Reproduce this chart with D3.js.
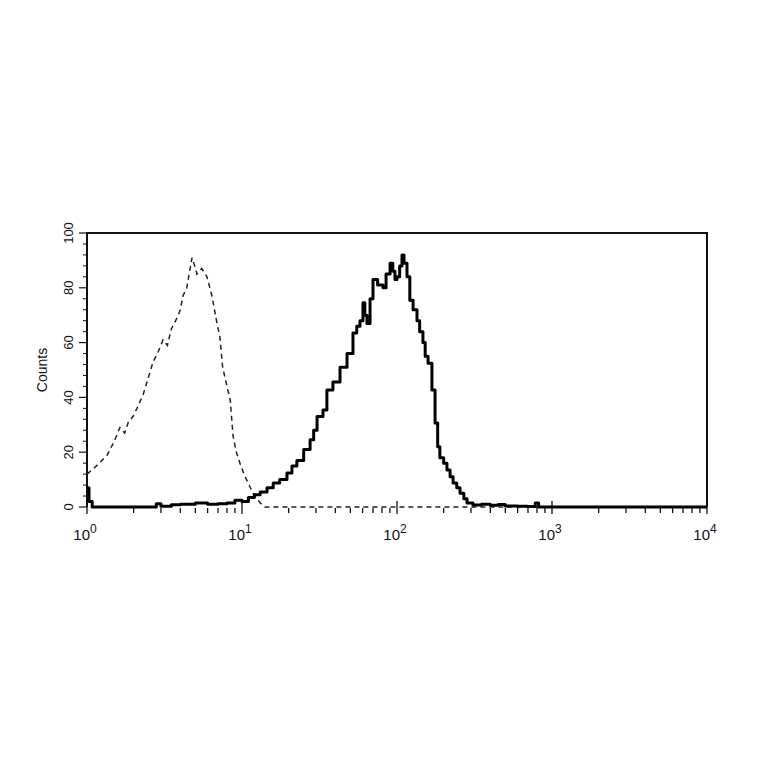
<!DOCTYPE html>
<html>
<head>
<meta charset="utf-8">
<script src="https://cdn.jsdelivr.net/npm/d3@7"></script>
<style>
  html, body { margin: 0; padding: 0; background: #fff; }
  svg { display: block; }
  text { font-family: "Liberation Sans", Arial, sans-serif; fill: #111; }
</style>
</head>
<body>
<div id="chart"></div>
<script>
// histogram readings: [fluorescence, counts]
const isotype = [
  [1.0, 12], [1.1, 14], [1.2, 16], [1.35, 19], [1.5, 24], [1.63, 29], [1.75, 27],
  [1.85, 31], [1.98, 33], [2.1, 36], [2.3, 41], [2.45, 46], [2.67, 53], [2.85, 56],
  [3.09, 61], [3.3, 59], [3.5, 65], [3.81, 69], [4.0, 72], [4.16, 77], [4.4, 80],
  [4.76, 91], [4.95, 88], [5.12, 85], [5.5, 87], [5.94, 84], [6.4, 77], [6.9, 67],
  [7.2, 62], [7.5, 51], [8.0, 44], [8.4, 39], [8.75, 26], [9.2, 20], [9.7, 16],
  [10.3, 12], [10.9, 9], [11.8, 5], [12.5, 3], [13.1, 1.5], [14, 0], [10000, 0]
];

const stained = [
  [1.0, 7], [1.03, 2], [1.08, 0], [2.5, 0], [2.8, 1.2], [3.0, 0.3], [3.5, 0.8],
  [4.0, 1], [5, 1.5], [6, 1], [7, 1.2], [8, 1.5], [9, 2.5], [10, 2], [11, 3.5],
  [12, 4.5], [13.1, 5.5], [14.5, 7], [15.9, 8.8], [17.5, 10], [19.5, 12.4], [21, 15],
  [22.6, 17], [25, 21], [27.5, 24.5], [29, 28], [30.5, 33], [33.3, 35.4], [35.3, 42.7],
  [38.6, 45.6], [42.9, 51], [47.6, 56], [52, 63.5], [55, 66], [57.7, 68], [60.3, 74.5],
  [62, 70], [64, 67], [67, 76], [70, 83], [75, 81], [81.2, 80], [85, 85], [90.2, 89],
  [94, 86], [97, 83], [100, 84], [104, 88], [107.7, 92], [111, 89], [116, 84],
  [121, 75.5], [127, 72], [134.6, 68], [140, 64], [147, 60], [152, 55], [158.6, 52.5],
  [168, 42.7], [176, 30.7], [183, 22], [189, 18], [200, 16], [210, 13.5], [220, 11],
  [230, 8.8], [243, 7], [255, 5], [270, 3], [283, 1.5], [309, 0.7], [350, 1],
  [400, 0.6], [450, 0.9], [500, 0.4], [600, 0.3], [700, 0.2], [780, 1.5], [820, 0],
  [10000, 0]
];

const yTicks = [0, 20, 40, 60, 80, 100];
const xDecades = [0, 1, 2, 3, 4];

const width = 764, height = 764;
const plotL = 87, plotR = 707, plotT = 233, plotB = 507;

const svg = d3.select('#chart').append('svg')
  .attr('width', width)
  .attr('height', height);

const x = d3.scaleLog().domain([1, 10000]).range([plotL, plotR]);
const y = d3.scaleLinear().domain([0, 100]).range([plotB, plotT]);

// frame: left, top, right (the bottom edge is the histograms' own baseline)
svg.append('path')
  .attr('d', `M${plotL},${plotB}V${plotT}H${plotR}V${plotB}`)
  .attr('fill', 'none').attr('stroke', '#111').attr('stroke-width', 2);

// y axis ticks
const yMinor = d3.range(0, 101, 4).filter(v => v % 20 !== 0);
svg.selectAll('.ymin').data(yMinor).join('line')
  .attr('x1', plotL - 4).attr('x2', plotL)
  .attr('y1', d => y(d)).attr('y2', d => y(d))
  .attr('stroke', '#111').attr('stroke-width', 1);
svg.selectAll('.ymaj').data(yTicks).join('line')
  .attr('x1', plotL - 8).attr('x2', plotL)
  .attr('y1', d => y(d)).attr('y2', d => y(d))
  .attr('stroke', '#111').attr('stroke-width', 1.2);
svg.selectAll('.ylab').data(yTicks).join('text')
  .attr('transform', d => `translate(${plotL - 14},${y(d)}) rotate(-90)`)
  .attr('text-anchor', 'middle')
  .attr('font-size', 13)
  .text(d => d);

svg.append('text')
  .attr('transform', `translate(47,${(plotT + plotB) / 2}) rotate(-90)`)
  .attr('text-anchor', 'middle')
  .attr('font-size', 14)
  .text('Counts');

// x axis ticks
const xMinor = [];
xDecades.slice(0, -1).forEach(e => {
  for (let m = 2; m <= 9; m++) xMinor.push(m * Math.pow(10, e));
});
svg.selectAll('.xmin').data(xMinor).join('line')
  .attr('x1', d => x(d)).attr('x2', d => x(d))
  .attr('y1', plotB + 1).attr('y2', plotB + 6)
  .attr('stroke', '#111').attr('stroke-width', 1.3);
svg.selectAll('.xmaj').data(xDecades).join('line')
  .attr('x1', d => x(Math.pow(10, d))).attr('x2', d => x(Math.pow(10, d)))
  .attr('y1', plotB - 6).attr('y2', plotB + 7)
  .attr('stroke', '#111').attr('stroke-width', 1.3);

const xLab = svg.selectAll('.xlab').data(xDecades).join('text')
  .attr('x', d => x(Math.pow(10, d)) - 2)
  .attr('y', 540)
  .attr('text-anchor', 'middle')
  .attr('font-size', 15);
xLab.append('tspan').text('10');
xLab.append('tspan').attr('dy', -7).attr('font-size', 12).text(d => d);

// histograms
svg.append('path')
  .datum(isotype)
  .attr('d', d3.line().x(d => x(d[0])).y(d => y(d[1])))
  .attr('fill', 'none')
  .attr('stroke', '#222')
  .attr('stroke-width', 1.5)
  .attr('stroke-dasharray', '5,4');

svg.append('path')
  .datum(stained)
  .attr('d', d3.line().x(d => x(d[0])).y(d => y(d[1])).curve(d3.curveStepAfter))
  .attr('fill', 'none')
  .attr('stroke', '#000')
  .attr('stroke-width', 3)
  .attr('stroke-linejoin', 'round');
</script>
</body>
</html>
